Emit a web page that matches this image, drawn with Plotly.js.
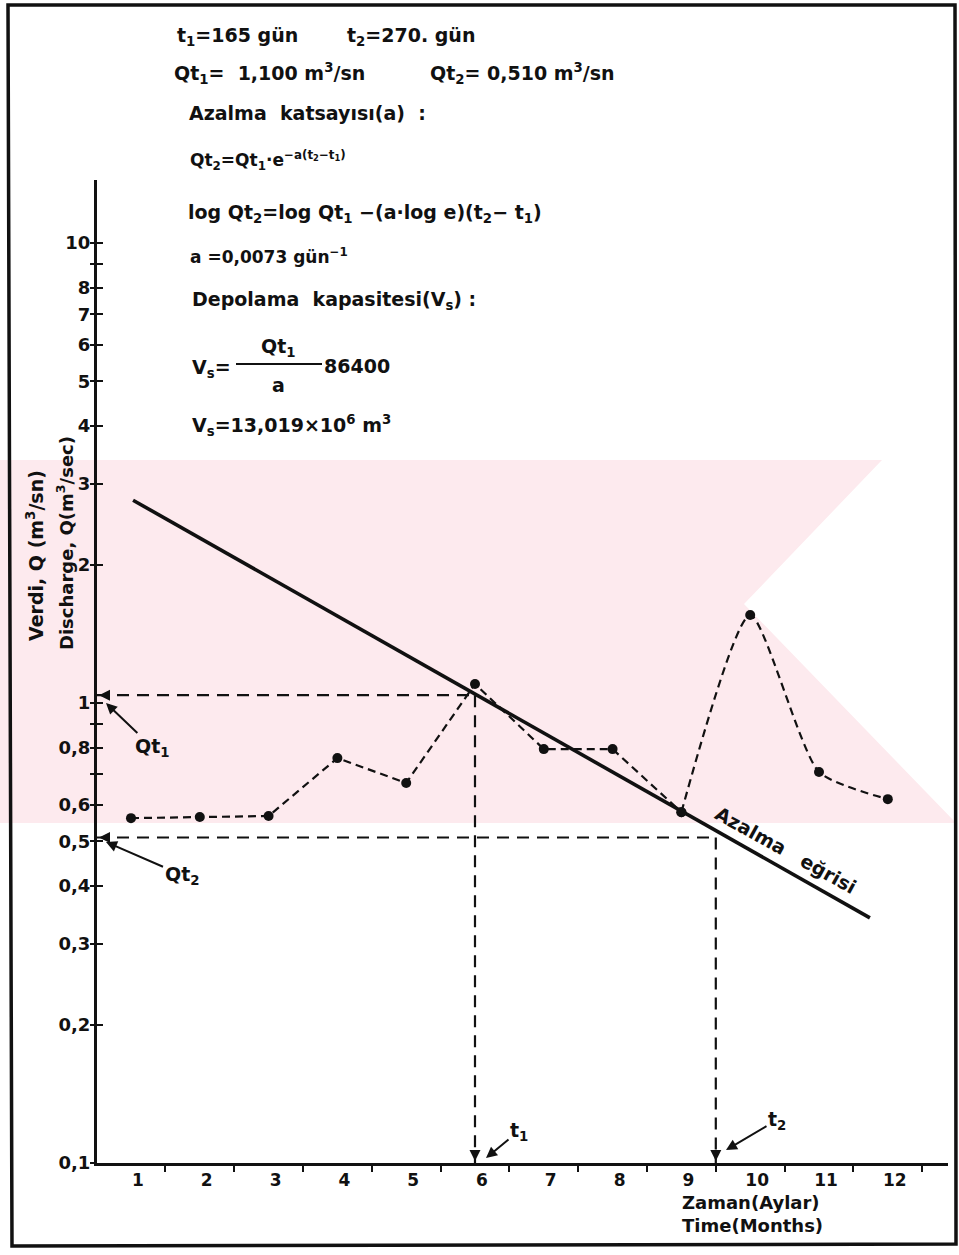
<!DOCTYPE html>
<html><head><meta charset="utf-8">
<script src="https://cdn.plot.ly/plotly-3.0.1.min.js"></script>
<style>body{margin:0;background:#fff}</style>
</head><body><div id="chart" style="width:959px;height:1255px"></div>
<script>
// ---------- data ----------
const months = [1,2,3,4,5,6,7,8,9,10,11,12];
const discharge = [0.562,0.565,0.568,0.759,0.670,1.10,0.794,0.794,0.579,1.553,0.708,0.618];
const recessionMonths = [1.03, 11.74];
const recessionQ = [2.76, 0.341];
const t1Month = 6, t2Month = 9.5;
const qt1Level = 1.04, qt2Level = 0.51;
const qMin = 0.1;
const xTickText = ['1','2','3','4','5','6','7','8','9','10','11','12'];
const xMinorVals = [0.5,1.5,2.5,3.5,4.5,5.5,6.5,7.5,8.5,9.5,10.5,11.5,12.5];
const yTickVals = [0.1,0.2,0.3,0.4,0.5,0.6,0.7,0.8,0.9,1,2,3,4,5,6,7,8,9,10];
const yTickText = ['0,1','0,2','0,3','0,4','0,5','0,6','','0,8','','1','2','3','4','5','6','7','8','','10'];

// ---------- geometry helpers (page pixels -> paper) ----------
const W=959, H=1255, L=97, R=948, T=180, B=1163;
const xRange=[0.506,12.875], yRange=[-1,1.137];
const px = x => (x-L)/(R-L);
const py = y => (B-y)/(B-T);
const TXT = 'DejaVu Sans, Liberation Sans, sans-serif';
const ink = '#111';

function txt(text, x, y, o) {
  o = o || {};
  return {xref:'paper', yref:'paper', x:px(x), y:py(y), text:text, showarrow:false,
    xanchor:o.xa||'left', yanchor:'middle', textangle:o.angle||0,
    font:{family:TXT, size:o.size||19, color:ink, weight:o.weight||'bold'}};
}
function label(text, tipX, tipY, textX, textY) {
  return {xref:'paper', yref:'paper', x:px(tipX), y:py(tipY), ax:textX-tipX, ay:textY-tipY,
    text:text, showarrow:true, arrowhead:2, arrowsize:1.1, arrowwidth:2, arrowcolor:ink, standoff:0,
    font:{family:TXT, size:19, color:ink, weight:'bold'}};
}
function pathOf(pts){ return 'M' + pts.map(p => px(p[0]).toFixed(5)+','+py(p[1]).toFixed(5)).join(' L') + ' Z'; }
function headAt(x, y, ax, ay){
  return {x:x, y:y, xref:'x', yref:'y', ax:ax, ay:ay, text:'', showarrow:true, arrowhead:2,
    arrowsize:1.1, arrowwidth:2, arrowcolor:ink, standoff:2};
}

const traces = [
  // guide lines
  {x:[xRange[0], t1Month], y:[qt1Level, qt1Level], mode:'lines', line:{color:ink, width:2.2, dash:'12px,8px'}, hoverinfo:'skip'},
  {x:[t1Month, t1Month], y:[qt1Level, qMin], mode:'lines', line:{color:ink, width:2.2, dash:'12px,8px'}, hoverinfo:'skip'},
  {x:[xRange[0], t2Month], y:[qt2Level, qt2Level], mode:'lines', line:{color:ink, width:2.2, dash:'12px,8px'}, hoverinfo:'skip'},
  {x:[t2Month, t2Month], y:[qt2Level, qMin], mode:'lines', line:{color:ink, width:2.2, dash:'12px,8px'}, hoverinfo:'skip'},
  // recession line
  {x:recessionMonths, y:recessionQ, mode:'lines', line:{color:ink, width:3.6}, hoverinfo:'skip'},
  // observed discharge
  {x:months.slice(0,9), y:discharge.slice(0,9), mode:'lines+markers', line:{color:ink, width:2.2, dash:'8px,5px'},
   marker:{color:ink, size:10}},
  {x:months.slice(8), y:discharge.slice(8), mode:'lines+markers', line:{color:ink, width:2.2, dash:'8px,5px', shape:'spline', smoothing:0.6},
   marker:{color:ink, size:10}},
  // helper so the outer y ticks are drawn
  {x:[t1Month], y:[qt1Level], yaxis:'y2', mode:'markers', marker:{opacity:0}, hoverinfo:'skip'}
];

const annotations = [
  txt('t<sub>1</sub>=165 gün', 175, 36),
  txt('t<sub>2</sub>=270. gün', 345, 36),
  txt('Qt<sub>1</sub>=  1,100 m<sup>3</sup>/sn', 172, 73),
  txt('Qt<sub>2</sub>= 0,510 m<sup>3</sup>/sn', 428, 73),
  txt('Azalma  katsayısı(a)  :', 187, 113),
  txt('Qt<sub>2</sub>=Qt<sub>1</sub>·e<sup>−a(t<sub>2</sub>−t<sub>1</sub>)</sup>', 188, 160, {size:17}),
  txt('log Qt<sub>2</sub>=log Qt<sub>1</sub> −(a·log e)(t<sub>2</sub>− t<sub>1</sub>)', 186, 213),
  txt('a =0,0073 gün<sup>−1</sup>', 188, 256, {size:17}),
  txt('Depolama  kapasitesi(V<sub>s</sub>) :', 190, 300),
  txt('V<sub>s</sub>=', 190, 368),
  txt('Qt<sub>1</sub>', 278, 347, {xa:'center'}),
  txt('a', 278, 385, {xa:'center'}),
  txt('86400', 322, 366),
  txt('V<sub>s</sub>=13,019×10<sup>6</sup> m<sup>3</sup>', 190, 425),
  // axis titles
  txt('Verdi, Q (m<sup>3</sup>/sn)', 35, 555, {xa:'center', angle:-90, size:19}),
  txt('Discharge, Q(m<sup>3</sup>/sec)', 65, 543, {xa:'center', angle:-90, size:18}),
  txt('Zaman(Aylar)', 680, 1202, {size:18}),
  txt('Time(Months)', 680, 1225, {size:18}),
  txt('Azalma   eğrisi', 786, 850, {xa:'center', angle:29, size:19}),
  // labelled arrows
  label('Qt<sub>1</sub>', 106, 703, 152, 747),
  label('Qt<sub>2</sub>', 106, 842, 182, 875),
  label('t<sub>1</sub>', 486, 1158, 519, 1131),
  label('t<sub>2</sub>', 726, 1150, 777, 1120),
  // arrowheads on the guide lines
  headAt(xRange[0], Math.log10(qt1Level), 14, 0),
  headAt(xRange[0], Math.log10(qt2Level), 14, 0),
  headAt(t1Month, Math.log10(qMin), 0, -14),
  headAt(t2Month, Math.log10(qMin), 0, -14)
];

const shapes = [
  // watermark band
  {type:'path', xref:'paper', yref:'paper', layer:'below', line:{width:0}, fillcolor:'rgb(253,234,238)',
   path:pathOf([[0,460],[882,460],[744,604],[956,823],[0,823]])},
  // fraction bar
  {type:'line', xref:'paper', yref:'paper', x0:px(236), x1:px(322), y0:py(364), y1:py(364), line:{color:ink, width:2}},
  // page frame
  {type:'path', xref:'paper', yref:'paper', line:{color:ink, width:3.5},
   path:'M'+px(8)+','+py(5)+' L'+px(955)+','+py(5)+' L'+px(956)+','+py(1244)+' L'+px(12)+','+py(1246)+' Z'}
];

const layout = {
  width:W, height:H, margin:{l:L, r:W-R, t:T, b:H-B, pad:0},
  paper_bgcolor:'#fff', plot_bgcolor:'rgba(0,0,0,0)', showlegend:false,
  xaxis:{range:xRange, showline:true, linewidth:3, linecolor:ink, showgrid:false, zeroline:false,
    tickmode:'array', tickvals:months, ticktext:xTickText, ticks:'', ticklabelshift:7, ticklabelstandoff:0,
    tickfont:{family:TXT, size:17, color:ink, weight:'bold'},
    minor:{tickmode:'array', tickvals:xMinorVals, ticks:'outside', ticklen:6, tickwidth:2, tickcolor:ink, showgrid:false}},
  yaxis:{type:'log', range:yRange, showline:true, linewidth:3, linecolor:ink, showgrid:false, zeroline:false,
    tickmode:'array', tickvals:yTickVals, ticktext:yTickText, ticks:'inside', ticklen:6, tickwidth:2, tickcolor:ink,
    tickfont:{family:TXT, size:18, color:ink, weight:'bold'}},
  yaxis2:{type:'log', range:yRange, overlaying:'y', side:'left', showline:false, showgrid:false, zeroline:false,
    tickmode:'array', tickvals:yTickVals, ticks:'outside', ticklen:6, tickwidth:2, tickcolor:ink, showticklabels:false},
  annotations:annotations, shapes:shapes
};
Plotly.newPlot('chart', traces, layout, {staticPlot:true});
</script></body></html>
